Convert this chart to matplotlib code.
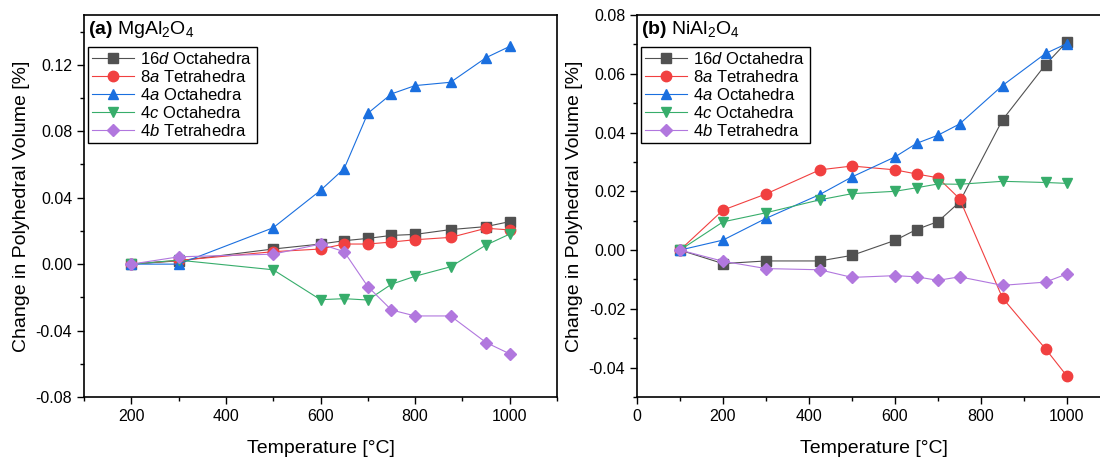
import matplotlib
matplotlib.use("Agg")
import matplotlib.pyplot as plt
from matplotlib.ticker import MultipleLocator, FormatStrFormatter

plt.rcParams['font.family'] = ['Liberation Sans', 'DejaVu Sans']
plt.rcParams['mathtext.fontset'] = 'custom'
plt.rcParams['mathtext.rm'] = 'Liberation Sans'
plt.rcParams['mathtext.it'] = 'Liberation Sans:italic'
plt.rcParams['mathtext.bf'] = 'Liberation Sans:bold'

# panel (a) MgAl2O4
temp_a = [200, 300, 500, 600, 650, 700, 750, 800, 875, 950, 1000]
a_16d = [0.0, 0.0020, 0.0091, 0.0121, 0.0141, 0.0155, 0.0173, 0.0179, 0.0208, 0.0226, 0.0256]
a_8a = [0.0, 0.0022, 0.0075, 0.0091, 0.0121, 0.0121, 0.0133, 0.0147, 0.0161, 0.0216, 0.0206]
a_4a = [0.0, 0.0, 0.0219, 0.0444, 0.0575, 0.0908, 0.1025, 0.1075, 0.1095, 0.1243, 0.1311]
a_4c = [0.0, 0.0024, -0.0034, -0.0214, -0.0208, -0.0216, -0.0121, -0.0073, -0.0016, 0.0115, 0.0181]
a_4b = [0.0, 0.0044, 0.0060, 0.0121, 0.0075, -0.0135, -0.0276, -0.0312, -0.0312, -0.0472, -0.0540]

# panel (b) NiAl2O4
temp_b = [100, 200, 300, 425, 500, 600, 650, 700, 750, 850, 950, 1000]
b_16d = [0.0, -0.0046, -0.0037, -0.0037, -0.0018, 0.0033, 0.0070, 0.0097, 0.0163, 0.0443, 0.0631, 0.0709]
b_8a = [0.0, 0.0136, 0.0191, 0.0273, 0.0286, 0.0273, 0.0259, 0.0246, 0.0175, -0.0163, -0.0336, -0.0429]
b_4a = [0.0, 0.0034, 0.0108, 0.0189, 0.0249, 0.0317, 0.0363, 0.0391, 0.0429, 0.0560, 0.0669, 0.0703]
b_4c = [0.0, 0.0096, 0.0127, 0.0171, 0.0192, 0.0200, 0.0212, 0.0225, 0.0224, 0.0234, 0.0230, 0.0227]
b_4b = [0.0, -0.0038, -0.0063, -0.0067, -0.0093, -0.0087, -0.0091, -0.0103, -0.0091, -0.0120, -0.0109, -0.0081]

labels = [r'$\mathit{16d}$ Octahedra', r'$\mathit{8a}$ Tetrahedra', r'$\mathit{4a}$ Octahedra',
          r'$\mathit{4c}$ Octahedra', r'$\mathit{4b}$ Tetrahedra']
colors = ['#515151', '#F14040', '#1A6FDF', '#37AD6B', '#B177DE']
markers = ['s', 'o', '^', 'v', 'D']
msizes = [7, 7.5, 7.5, 7.5, 6]

fig = plt.figure(figsize=(11, 4.58), dpi=100)
ax1 = fig.add_axes([84/1100, 61/458, 473/1100, 382/458])
ax2 = fig.add_axes([637/1100, 61/458, 473/1100, 382/458])


def draw(ax, t, series, title, xlim, ylim, ymaj):
    for ys, c, m, ms, lab in zip(series, colors, markers, msizes, labels):
        ax.plot(t, ys, color=c, marker=m, markersize=ms, linewidth=0.8,
                markeredgecolor=c, label=lab)
    ax.set_xlim(*xlim)
    ax.set_ylim(*ylim)
    ax.xaxis.set_major_locator(MultipleLocator(200))
    ax.xaxis.set_minor_locator(MultipleLocator(100))
    ax.yaxis.set_major_locator(MultipleLocator(ymaj))
    ax.yaxis.set_minor_locator(MultipleLocator(ymaj / 2))
    ax.yaxis.set_major_formatter(FormatStrFormatter('%.2f'))
    ax.tick_params(which='major', direction='out', length=5, width=1, labelsize=11.5)
    ax.tick_params(which='minor', direction='out', length=3, width=1)
    for s in ax.spines.values():
        s.set_linewidth(1.2)
    ax.set_xlabel('Temperature [°C]', fontsize=14, labelpad=12)
    ax.set_ylabel('Change in Polyhedral Volume [%]', fontsize=14)
    ax.text(0.008, 0.962, title, transform=ax.transAxes, fontsize=14, va='center', ha='left')
    leg = ax.legend(loc='upper left', bbox_to_anchor=(0.008, 0.916), fontsize=12,
                    frameon=True, fancybox=False, edgecolor='black', framealpha=1,
                    borderpad=0.25, labelspacing=0.12, handlelength=2.5,
                    handletextpad=0.4, borderaxespad=0)
    leg.get_frame().set_linewidth(1.0)


draw(ax1, temp_a, [a_16d, a_8a, a_4a, a_4c, a_4b], r'$\mathbf{(a)}$ MgAl$_2$O$_4$',
     (100, 1100), (-0.08, 0.15), 0.04)
draw(ax2, temp_b, [b_16d, b_8a, b_4a, b_4c, b_4b], r'$\mathbf{(b)}$ NiAl$_2$O$_4$',
     (0, 1100), (-0.05, 0.08), 0.02)

fig.savefig('out.png', dpi=100)
